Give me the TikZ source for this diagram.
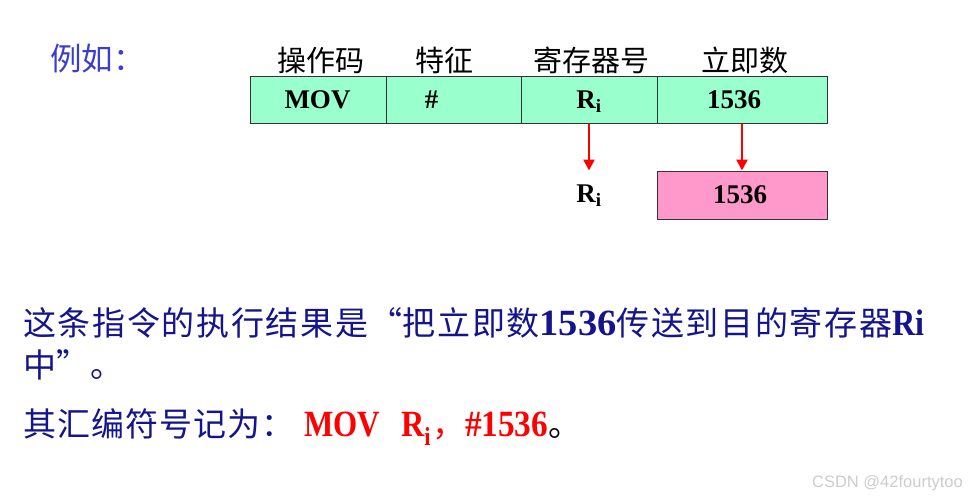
\documentclass[tikz,border=0pt]{standalone}
\usepackage{fontspec}
\usepackage{graphicx}
\setmainfont{Liberation Serif}
\newfontfamily\cjk{Noto Sans CJK SC}
\newfontfamily\cjkA{Noto Sans CJK SC}[LetterSpace=5]
\newfontfamily\cjkB{Noto Sans CJK SC}[LetterSpace=3]
\newfontfamily\wmfont{Liberation Sans}
\usetikzlibrary{arrows.meta}
\definecolor{mint}{HTML}{99FFCC}
\definecolor{pinkbox}{HTML}{FF99CC}
\definecolor{navy}{HTML}{14148C}
\definecolor{lblue}{HTML}{3D3DCC}
\definecolor{wmgray}{HTML}{CCCCCC}
\definecolor{edge}{HTML}{333333}
\tikzset{
  hdr/.style={inner sep=0pt, font=\cjk\fontsize{29}{34}\selectfont, text=black},
  cellbox/.style={draw=edge, line width=1pt, fill=mint, inner sep=0pt, minimum height=47pt},
  celltxt/.style={inner sep=0pt, anchor=base, font=\rmfamily\bfseries\fontsize{27}{30}\selectfont},
  arr/.style={draw=red, line width=2.4pt, -{Triangle[length=11pt,width=11pt]}},
  body/.style={inner sep=0pt, anchor=base west, text=navy},
}
% bold Latin in body text, with horizontal scale
\newcommand{\lb}[2]{\scalebox{#1}[1]{\rmfamily\fontsize{37}{40}\selectfont\bfseries #2}}
\newcommand{\fw}[2]{\makebox[34.65pt][#1]{#2}}
\begin{document}
\begin{tikzpicture}[x=1pt,y=-1pt]
\useasboundingbox (0,0) rectangle (969,498);
% title
\node[inner sep=0pt, anchor=west, text=lblue, font=\cjk\fontsize{31.5}{36}\selectfont] (eg) at (50,58.5) {例如：};
% headers
\node[hdr] (h1) at (320.5,60) {操作码};
\node[hdr] (h2) at (444,60) {特征};
\node[hdr] (h3) at (591,60) {寄存器号};
\node[hdr] (h4) at (744.5,60) {立即数};
% instruction cells
\node[cellbox, minimum width=136pt] (c1) at (318,99.5) {};
\node[cellbox, minimum width=135pt] (c2) at (453.5,99.5) {};
\node[cellbox, minimum width=136pt] (c3) at (589,99.5) {};
\node[cellbox, minimum width=170pt] (c4) at (742,99.5) {};
\node[celltxt] (t1) at (317.5,108) {MOV};
\node[celltxt] (t2) at (431.5,108) {\#};
\node[celltxt] (t3) at (589,108) {R\textsubscript{i}};
\node[celltxt] (t4) at (734,108) {1536};
% results
\node[cellbox, fill=pinkbox, minimum width=170pt, minimum height=48pt] (pk) at (742,195) {};
\node[celltxt] (pt) at (740,203) {1536};
\node[celltxt] (rr) at (589,202) {R\textsubscript{i}};
\coordinate (r1end) at (c3.south |- pk.north);
\draw[arr] (c3.south) -- (r1end);
\draw[arr] (c4.south) -- (pk.north);
% body text
\node[body, font=\cjkA\fontsize{33}{38}\selectfont] (l1) at (23,335)
  {这条指令的执行结果是\fw{r}{“}把立即数\lb{1.04}{1536}传送到目的寄存器\lb{0.87}{Ri}};
\node[body, font=\cjkA\fontsize{33}{38}\selectfont] (l2) at (23,377) {中\fw{l}{”}。};
\node[body, font=\cjkB\fontsize{33}{38}\selectfont] (l3) at (23,436)
  {其汇编符号记为：\hspace{10pt}{\color{red}\lb{0.84}{MOV}\hspace{21pt}\lb{0.87}{R\textsubscript{i}}\hspace{1pt}，\lb{0.9}{\#1536}}{\color{black}。}};
% watermark
\node[inner sep=0pt, anchor=base east, text=wmgray, font=\wmfont\fontsize{16.5}{18}\selectfont] (wm) at (963,487) {CSDN @42fourtytoo};
\end{tikzpicture}
\end{document}
